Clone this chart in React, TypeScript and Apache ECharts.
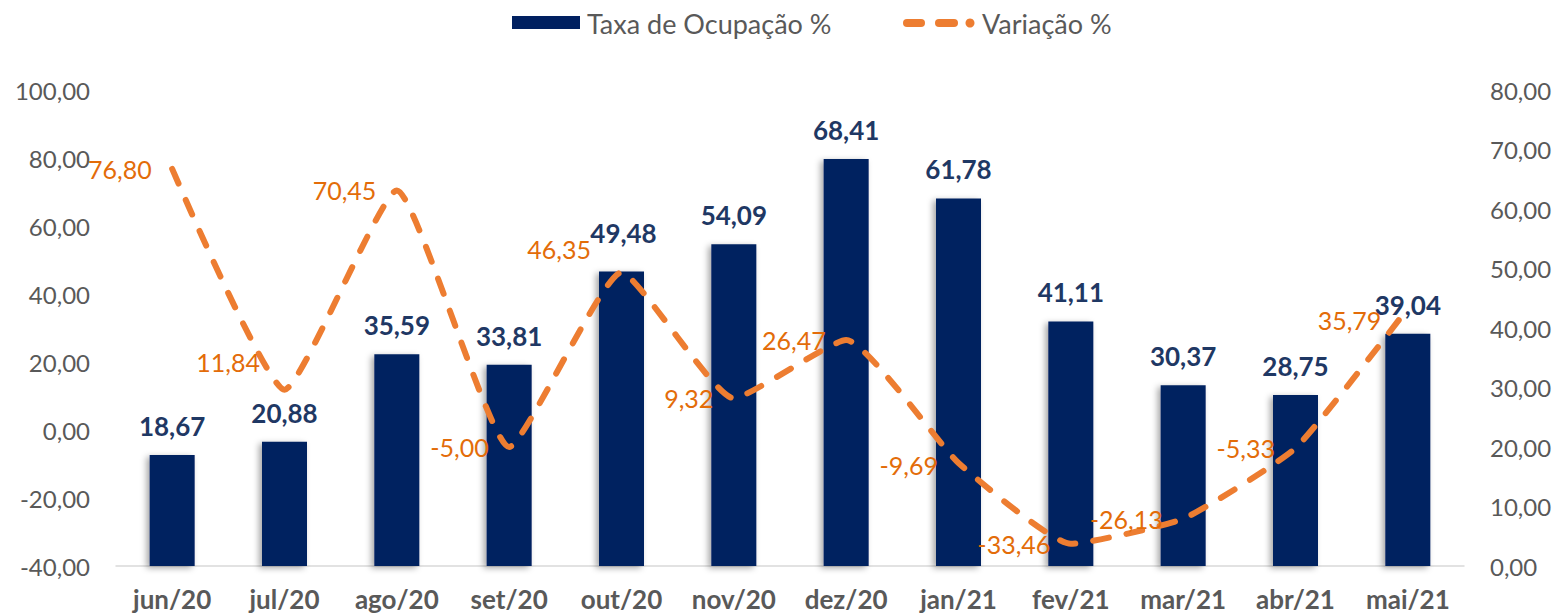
import React, { useEffect, useRef } from 'react';
import * as echarts from 'echarts';

const categories = ['jun/20', 'jul/20', 'ago/20', 'set/20', 'out/20', 'nov/20', 'dez/20', 'jan/21', 'fev/21', 'mar/21', 'abr/21', 'mai/21'];
const taxaOcupacao = [18.67, 20.88, 35.59, 33.81, 49.48, 54.09, 68.41, 61.78, 41.11, 30.37, 28.75, 39.04];
const variacao = [76.8, 11.84, 70.45, -5.0, 46.35, 9.32, 26.47, -9.69, -33.46, -26.13, -5.33, 35.79];
const seriesNames = ['Taxa de Ocupação %', 'Variação %'];

const FONT = 'Lato, "Open Sans", sans-serif';
const fmt = (v: number) => v.toFixed(2).replace('.', ',');

// label nudges (styling only)
const lineLabelOffsets: Record<number, [number, number]> = {
  1: [-4, -28],
  4: [-10, -23],
  7: [0, 2],
  11: [-6, 12],
};
const barLabelOffsets: Record<number, [number, number]> = {
  4: [2, -10],
};

export default function App() {
  const ref = useRef<HTMLDivElement>(null);
  useEffect(() => {
    document.body.style.margin = '0';
    if (!ref.current) return;
    const chart = echarts.init(ref.current, undefined, { renderer: 'svg' });
    const lineData = variacao.map((v, i) => {
      const off = lineLabelOffsets[i];
      return off ? { value: v, label: { offset: off } } : v;
    });
    const barData = taxaOcupacao.map((v, i) => {
      const off = barLabelOffsets[i];
      return off ? { value: v, label: { offset: off } } : v;
    });
    chart.setOption({
      animation: false,
      backgroundColor: '#ffffff',
      textStyle: { fontFamily: FONT },
      grid: { left: 116, right: 97, top: 90, bottom: 49, containLabel: false },
      xAxis: {
        type: 'category',
        data: categories,
        axisLine: { onZero: false, lineStyle: { color: '#D9D9D9', width: 1.5 } },
        axisTick: { show: false },
        axisLabel: { color: '#595959', fontSize: 26, fontWeight: 'bold', fontFamily: FONT, margin: 20 },
      },
      yAxis: [
        {
          type: 'value',
          min: -40,
          max: 100,
          interval: 20,
          position: 'left',
          splitLine: { show: false },
          axisLine: { show: false },
          axisTick: { show: false },
          axisLabel: { color: '#595959', fontSize: 24, fontFamily: FONT, margin: 26, formatter: (v: number) => fmt(v) },
        },
        {
          type: 'value',
          min: 0,
          max: 80,
          interval: 10,
          position: 'right',
          splitLine: { show: false },
          axisLine: { show: false },
          axisTick: { show: false },
          axisLabel: { color: '#595959', fontSize: 24, fontFamily: FONT, margin: 26, formatter: (v: number) => fmt(v) },
        },
      ],
      graphic: [
        { type: 'rect', shape: { x: 512, y: 16, width: 68, height: 13 }, style: { fill: '#002060' } },
        { type: 'text', x: 587, y: 23, style: { text: seriesNames[0], font: `27px ${FONT}`, fill: '#595959', verticalAlign: 'middle' } },
        { type: 'line', shape: { x1: 907, y1: 23, x2: 921, y2: 23 }, style: { stroke: '#ED7D31', lineWidth: 8, lineCap: 'round' } },
        { type: 'line', shape: { x1: 939, y1: 23, x2: 954, y2: 23 }, style: { stroke: '#ED7D31', lineWidth: 8, lineCap: 'round' } },
        { type: 'circle', shape: { cx: 970, cy: 23, r: 4.5 }, style: { fill: '#ED7D31' } },
        { type: 'text', x: 982, y: 23, style: { text: seriesNames[1], font: `27px ${FONT}`, fill: '#595959', verticalAlign: 'middle' } },
      ],
      series: [
        {
          name: seriesNames[0],
          type: 'bar',
          yAxisIndex: 1,
          data: barData,
          barWidth: 45,
          itemStyle: {
            color: '#002060',
            shadowColor: 'rgba(0,0,0,0.35)',
            shadowBlur: 6,
            shadowOffsetX: -3,
            shadowOffsetY: 2,
          },
          label: {
            show: true,
            position: 'top',
            distance: 16,
            color: '#1F3864',
            fontSize: 26,
            fontWeight: 'bold',
            fontFamily: FONT,
            formatter: (p: any) => fmt(p.value),
          },
          z: 2,
        },
        {
          name: seriesNames[1],
          type: 'line',
          yAxisIndex: 0,
          data: lineData,
          smooth: 0.15,
          showSymbol: true,
          symbol: 'circle',
          symbolSize: 1,
          lineStyle: { color: '#ED7D31', width: 6, type: [16, 18], cap: 'round', join: 'round' },
          itemStyle: { color: 'rgba(237,125,49,0)' },
          label: {
            show: true,
            position: 'left',
            distance: 20,
            color: '#E36C09',
            fontSize: 25,
            fontFamily: FONT,
            formatter: (p: any) => fmt(p.value),
          },
          z: 3,
        },
      ],
    });
    return () => chart.dispose();
  }, []);
  return <div ref={ref} style={{ width: 1561, height: 615 }} />;
}
